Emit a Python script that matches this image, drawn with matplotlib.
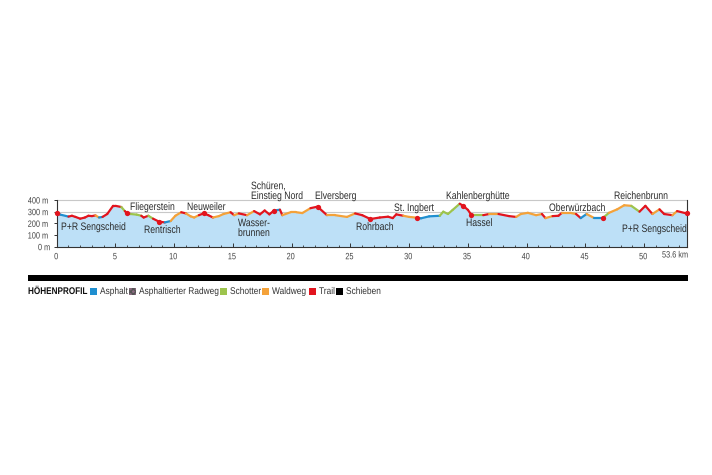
import matplotlib
matplotlib.use('Agg')
import matplotlib.pyplot as plt
from matplotlib.patches import Rectangle
from matplotlib.patheffects import AbstractPathEffect
from matplotlib.transforms import Affine2D

plt.rcParams['font.family'] = ['Liberation Sans', 'DejaVu Sans']

W, H = 712, 475

# profile points, surface[i] is the surface between point i and i+1
km = [0, 0.3, 1.0, 1.3, 1.6, 2.0, 2.4, 2.7, 3.0, 3.3, 3.6, 3.9, 4.3, 4.8, 5.0, 5.5, 5.8, 6.0,
      6.3, 6.8, 7.2, 7.4, 7.8, 8.2, 8.7, 9.2, 9.7, 10.1, 10.6, 11.0, 11.4, 11.7, 12.1, 12.5,
      12.9, 13.3, 13.8, 14.2, 14.8, 15.1, 15.5, 16.2, 16.8, 17.3, 17.7, 18.1, 18.5, 19.0, 19.2,
      19.9, 20.4, 20.9, 21.6, 22.2, 23.0, 23.7, 24.7, 25.4, 26.0, 26.7, 27.5, 28.2, 28.6, 28.9,
      29.5, 30.0, 30.7, 31.0, 31.7, 32.6, 32.9, 33.3, 33.7, 34.3, 34.6, 35.0, 35.3, 36.3, 36.8,
      37.6, 38.5, 39.1, 39.5, 40.1, 40.8, 41.3, 41.6, 42.2, 42.7, 43.0, 43.7, 44.2, 44.6, 45.1,
      45.7, 46.5, 47.0, 47.7, 48.3, 48.9, 49.6, 50.1, 50.7, 51.3, 51.7, 52.4, 52.8, 53.6]
elev = [285, 275, 258, 265, 255, 240, 250, 265, 262, 268, 250, 255, 280, 350, 350, 340, 305, 285,
        280, 275, 265, 250, 265, 240, 215, 208, 220, 265, 295, 285, 260, 250, 270, 285,
        270, 250, 262, 280, 295, 270, 285, 270, 305, 277, 310, 277, 310, 317, 270,
        295, 295, 288, 330, 343, 270, 270, 255, 285, 270, 237, 250, 257, 245, 277,
        265, 255, 248, 243, 260, 265, 300, 280, 315, 368, 350, 315, 270, 270, 280,
        280, 262, 255, 280, 290, 270, 280, 245, 262, 265, 290, 290, 280, 245, 280,
        248, 248, 290, 320, 355, 350, 300, 350, 280, 320, 280, 270, 305, 285]
surface = ['Trail', 'Asphalt', 'Trail', 'Trail', 'Trail', 'Trail', 'Trail', 'Trail', 'Trail', 'Waldweg', 'Asphalt', 'Trail', 'Trail',
           'Trail', 'Trail', 'Schotter', 'Trail', 'Trail', 'Schotter', 'Schotter', 'Trail', 'Trail', 'Schotter', 'Trail', 'Trail', 'Asphalt', 'Waldweg',
           'Waldweg', 'Trail', 'Waldweg', 'Waldweg', 'Waldweg', 'Trail', 'Trail', 'Trail', 'Waldweg', 'Waldweg', 'Waldweg', 'Trail', 'Waldweg', 'Trail',
           'Waldweg', 'Trail', 'Trail', 'Trail', 'Trail', 'Asphalt', 'Trail', 'Waldweg', 'Waldweg', 'Waldweg', 'Waldweg', 'Trail', 'Trail', 'Waldweg',
           'Waldweg', 'Waldweg', 'Trail', 'Trail', 'Trail', 'Trail', 'Trail', 'Trail', 'Trail', 'Waldweg', 'Waldweg', 'Asphalt', 'Asphalt', 'Asphalt',
           'Schotter', 'Schotter', 'Schotter', 'Schotter', 'Trail', 'Trail', 'Trail', 'Schotter', 'Trail', 'Waldweg', 'Trail', 'Trail', 'Waldweg', 'Waldweg',
           'Waldweg', 'Waldweg', 'Trail', 'Waldweg', 'Trail', 'Trail', 'Waldweg', 'Waldweg', 'Trail', 'Asphalt', 'Waldweg', 'Asphalt', 'Schotter', 'Waldweg',
           'Waldweg', 'Waldweg', 'Schotter', 'Trail', 'Trail', 'Waldweg', 'Trail', 'Trail', 'Waldweg', 'Trail']

stop_km = [0, 6.0, 8.7, 12.5, 18.5, 22.2, 26.7, 30.7, 34.6, 35.3, 46.5, 53.6]
stop_elev = [285, 285, 215, 285, 310, 343, 237, 248, 350, 270, 248, 285]

x_ticks = [0, 5, 10, 15, 20, 25, 30, 35, 40, 45, 50]
x_labels = ['0', '5', '10', '15', '20', '25', '30', '35', '40', '45', '50']
y_ticks = [0, 100, 200, 300, 400]
y_labels = ['0 m', '100 m', '200 m', '300 m', '400 m']

legend_names = ['Asphalt', 'Asphaltierter Radweg', 'Schotter', 'Waldweg', 'Trail', 'Schieben']
legend_box_x = [90, 129, 220, 262, 309, 336]
colors = {'Asphalt': '#1f8fd0', 'Asphaltierter Radweg': '#8a6a80', 'Schotter': '#9dc44d',
          'Waldweg': '#f4a23a', 'Trail': '#e2141e', 'Schieben': '#000000'}

# place names with left edge and baseline in pixels
place_names = ['P+R Sengscheid', 'Fliegerstein', 'Rentrisch', 'Neuweiler', 'Wasser-\nbrunnen',
               'Schüren,\nEinstieg Nord', 'Elversberg', 'Rohrbach', 'St. Ingbert',
               'Kahlenberghütte', 'Hassel', 'Oberwürzbach', 'Reichenbrunn', 'P+R Sengscheid']
place_x = [61, 130, 144, 187, 238, 251, 315, 356, 394, 446, 466, 549, 614, 622]
place_y = [230, 210, 233, 210, 236, 199, 199, 230, 211, 199, 226, 211, 199, 232]


# no condensed font installed, so squeeze the glyphs sideways
class Narrow(AbstractPathEffect):
    def __init__(self, sx):
        super().__init__()
        self.sx = sx

    def draw_path(self, renderer, gc, tpath, affine, rgbFace=None):
        renderer.draw_path(gc, tpath, Affine2D().scale(self.sx, 1) + affine, rgbFace)


fig = plt.figure(figsize=(W / 100, H / 100), dpi=100)
ax = fig.add_axes([56.7 / W, 1 - 246.7 / H, (686.5 - 56.7) / W, 46.7 / H])

ax.fill_between(km, elev, 0, color='#bde0f7', lw=0, zorder=1)
ax.hlines([300, 400], 0, 53.6, color='#c8c8c8', lw=0.8, zorder=0.5, clip_on=False)
for i in range(len(km) - 1):
    ax.plot(km[i:i + 2], elev[i:i + 2], color=colors[surface[i]], lw=1.6,
            solid_capstyle='round', zorder=3)
ax.plot(stop_km, stop_elev, 'o', color=colors['Trail'], ms=3.8, mew=0, zorder=4, clip_on=False)

for name, px, py in zip(place_names, place_x, place_y):
    fig.text(px / W, 1 - py / H, name, ha='left', va='baseline', fontsize=7.8, color='#2b2b2b',
             linespacing=0.98, path_effects=[Narrow(0.8)])

ax.set_xlim(0, 53.6)
ax.set_ylim(0, 400)
ax.spines['top'].set_visible(False)
for s in ['left', 'bottom', 'right']:
    ax.spines[s].set_linewidth(0.8)
    ax.spines[s].set_color('#333333')
ax.set_xticks(x_ticks)
ax.set_xticklabels(x_labels, fontsize=6.6, color='#444444')
ax.set_xticks(list(range(54)), minor=True)
ax.set_yticks(y_ticks)
ax.set_yticklabels(y_labels, fontsize=6.6, color='#444444')
ax.tick_params(axis='x', which='major', direction='in', length=3, width=0.7, pad=4, color='#333333')
ax.tick_params(axis='x', which='minor', direction='in', length=1.5, width=0.6, color='#333333')
ax.tick_params(axis='y', length=2.5, width=0.7, pad=0, color='#333333')
for lbl in ax.get_xticklabels() + ax.get_yticklabels():
    lbl.set_path_effects([Narrow(0.8)])
fig.text(662 / W, 1 - 257.5 / H, '53.6 km', ha='left', va='baseline', fontsize=6.6, color='#444444',
         path_effects=[Narrow(0.8)])

# black bar and legend line below the chart
fig.add_artist(Rectangle((28 / W, 1 - 280.5 / H), 660 / W, 6 / H, color='black', lw=0,
                         transform=fig.transFigure))
fig.text(28 / W, 1 - 294 / H, 'HÖHENPROFIL', fontsize=7, fontweight='bold', color='#111111',
         va='baseline', ha='left', path_effects=[Narrow(0.84)])
for name, bx in zip(legend_names, legend_box_x):
    hatch = 'xxxxxx' if name == 'Asphaltierter Radweg' else None
    fig.add_artist(Rectangle((bx / W, 1 - 294.5 / H), 7 / W, 6.5 / H, facecolor=colors[name],
                             edgecolor='#555555' if hatch else colors[name], lw=0, hatch=hatch,
                             transform=fig.transFigure))
    fig.text((bx + 10) / W, 1 - 294 / H, name, fontsize=7, color='#333333', va='baseline', ha='left',
             path_effects=[Narrow(0.86)])

fig.savefig('out.png', dpi=100)
